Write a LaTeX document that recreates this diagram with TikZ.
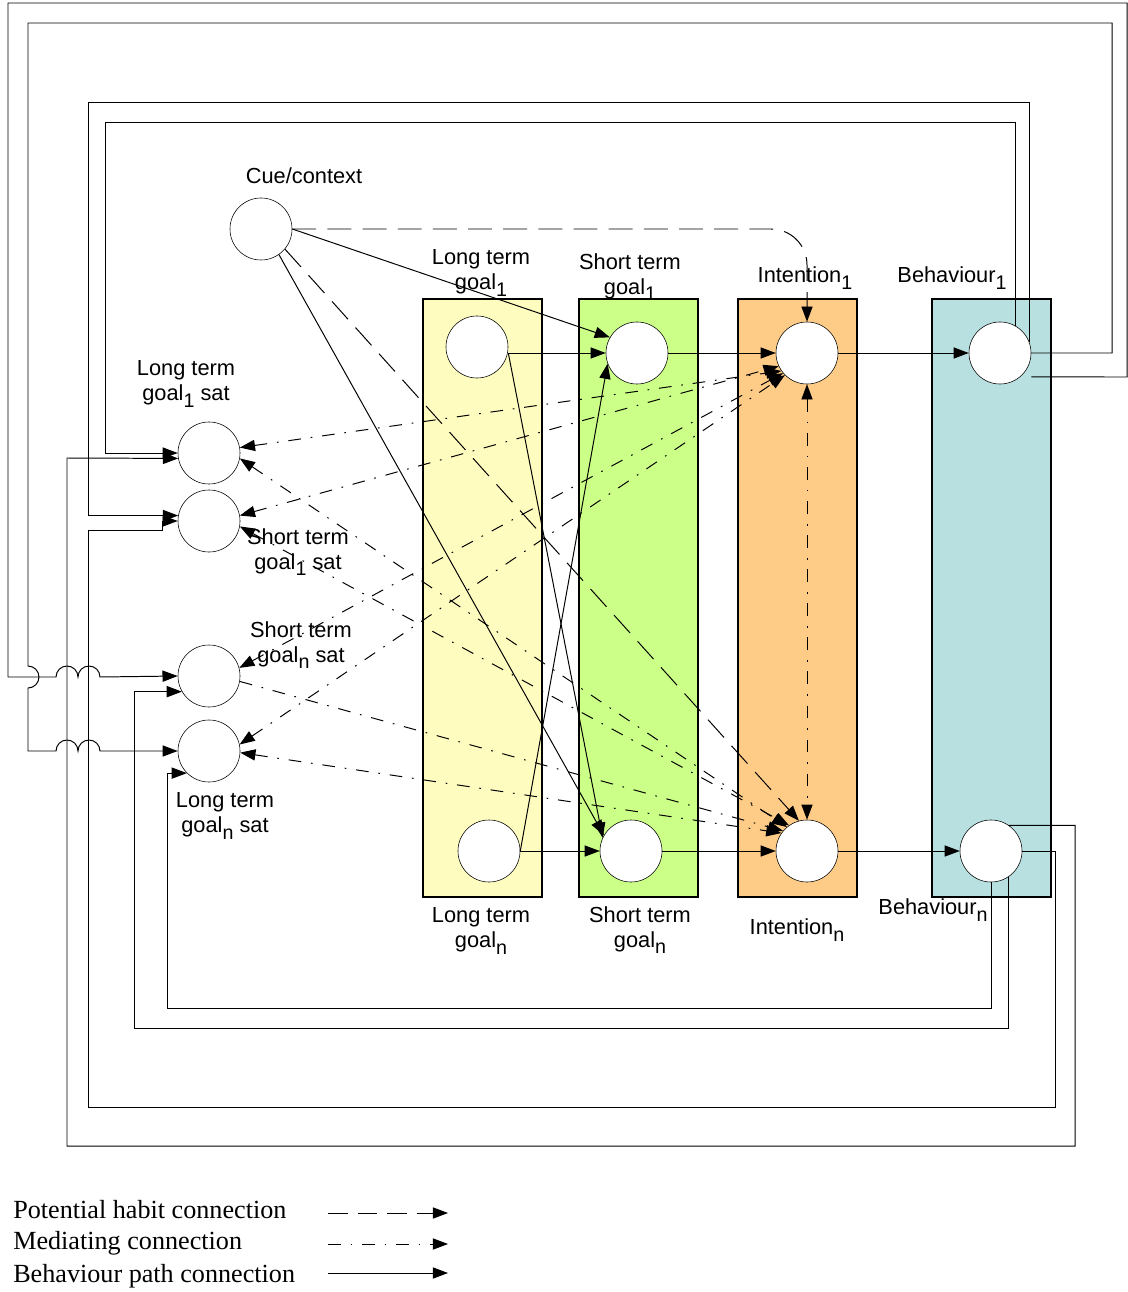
\documentclass[tikz,border=0pt]{standalone}
\usepackage{fontspec}
\setmainfont{Liberation Sans}
\newfontfamily\legendfont{Liberation Serif}
\usetikzlibrary{arrows.meta}
\definecolor{ltgfill}{RGB}{255,252,192}
\definecolor{stgfill}{RGB}{204,255,136}
\definecolor{intfill}{RGB}{255,204,136}
\definecolor{behfill}{RGB}{184,224,224}
\newcommand\lowidx[1]{\raisebox{-0.55ex}{\fontsize{14}{14}\selectfont #1}}
\begin{document}
\begin{tikzpicture}[x=0.025cm, y=-0.025cm, font=\fontsize{15.5}{18}\selectfont,
  >={Triangle[length=0.38cm, width=0.28cm]},
  cell/.style={circle, draw, fill=white, minimum size=1.55cm, inner sep=0pt},
  stage/.style={draw, line width=1.5pt, minimum width=2.975cm, minimum height=14.95cm, inner sep=0pt},
  lbl/.style={align=center, inner sep=0pt},
  route/.style={->, line width=0.7pt},
  habit/.style={->, line width=0.7pt, dash pattern=on 17pt off 8pt},
  mediating/.style={line width=0.7pt, dash pattern=on 9pt off 7pt on 1.2pt off 7pt},
  keytext/.style={anchor=west, inner sep=0pt, font=\legendfont\fontsize{18.6}{22}\selectfont}]
\useasboundingbox (0,0) rectangle (1128,1292);
\node[stage, fill=ltgfill] (ltgcol) at (482.5,598) {};
\node[stage, fill=stgfill] (stgcol) at (638.5,598) {};
\node[stage, fill=intfill] (intcol) at (797.5,598) {};
\node[stage, fill=behfill] (behcol) at (991.5,598) {};
\node[cell] (cue) at (261,229) {};
\node[cell] (ltgA) at (477,347) {};
\node[cell] (ltgN) at (489,851) {};
\node[cell] (stgA) at (637,353) {};
\node[cell] (stgN) at (631,851) {};
\node[cell] (intA) at (807,353) {};
\node[cell] (intN) at (807,851) {};
\node[cell] (behA) at (1000,353) {};
\node[cell] (behN) at (991,851) {};
\node[cell] (ltgAsat) at (209,453) {};
\node[cell] (stgAsat) at (209,521) {};
\node[cell] (stgNsat) at (209,676) {};
\node[cell] (ltgNsat) at (209,751) {};
\node[lbl] (cuelbl) at (304,176) {Cue/context};
\node[lbl] (ltgAlbl) at (481,273) {Long term\\goal\lowidx{1}};
\node[lbl] (stgAlbl) at (630,277) {Short term\\goal\lowidx{1}};
\node[lbl] (intAlbl) at (805,278) {Intention\lowidx{1}};
\node[lbl] (behAlbl) at (952,278) {Behaviour\lowidx{1}};
\node[lbl] (ltgNlbl) at (481,931) {Long term\\goal\lowidx{n}};
\node[lbl] (stgNlbl) at (640,930) {Short term\\goal\lowidx{n}};
\node[lbl] (intNlbl) at (797,930) {Intention\lowidx{n}};
\node[lbl] (behNlbl) at (933,910) {Behaviour\lowidx{n}};
\node[lbl] (ltgAsatlbl) at (186,384) {Long term\\goal\lowidx{1} sat};
\node[lbl] (stgAsatlbl) at (298,552) {Short term\\goal\lowidx{1} sat};
\node[lbl] (stgNsatlbl) at (301,645) {Short term\\goal\lowidx{n} sat};
\node[lbl] (ltgNsatlbl) at (225,816) {Long term\\goal\lowidx{n} sat};
\draw[route] (ltgA.east |- stgA.west) -- (stgA.west);
\draw[route] (ltgA.east |- stgA.west) -- (stgN.155);
\draw[route] (ltgN.east) -- (stgA.200);
\draw[route] (ltgN.east) -- (stgN.west);
\draw[route] (stgA.east) -- (intA.west);
\draw[route] (stgN.east) -- (intN.west);
\draw[route] (intA.east) -- (behA.west);
\draw[route] (intN.east) -- (behN.west);
\draw[route] (cue.east) -- (stgA.150);
\draw[route] (cue.-55) -- (stgN.150);
\draw[habit, rounded corners=0.9cm] (cue.east) -| (intA.north);
\draw[habit] (cue.-40) -- (intN.105);
\draw[mediating, <->] (intA.south) -- (intN.north);
\draw[mediating, <->] (ltgAsat.10) -- (intA.215);
\draw[mediating, <->] (ltgAsat.-10) -- (intN.130);
\draw[mediating, <->] (stgAsat.10) -- (intA.205);
\draw[mediating, <->] (stgAsat.-10) -- (intN.125);
\draw[mediating, <->] (stgNsat.15) -- (intA.220);
\draw[mediating, ->] (stgNsat.-10) -- (intN.140);
\draw[mediating, <->] (ltgNsat.12) -- (intA.225);
\draw[mediating, <->] (ltgNsat.-3) -- (intN.145);
\draw[route] (behA.-50 -| behA.east) -- (1127,377) -- (1127,3) -- (8,3) -- (8,677) -- (56,677)
  arc[start angle=180, end angle=360, radius=11] arc[start angle=180, end angle=360, radius=11] -- (stgNsat.west);
\draw[route] (behA.east) -- (1112,353) -- (1112,23) -- (28,23) -- (28,666)
  arc[start angle=-90, end angle=90, radius=11] -- (28,751) -- (56,751)
  arc[start angle=180, end angle=360, radius=11] arc[start angle=180, end angle=360, radius=11] -- (ltgNsat.west);
\draw[route] (behA.61) |- (105,122) |- (ltgAsat.west);
\draw[route] (behA.20) |- (88,102) |- (stgAsat.170);
\draw[route] (behN.55) -| (1075,1146) -| (67,458) -- (ltgAsat.-170);
\draw[route] (behN.east) -- (1055,851) |- (88,1107) |- (162,530) |- (stgAsat.west);
\draw[route] (behN.-55) |- (134,1028) |- (stgNsat.-150);
\draw[route] (behN.south) |- (167,1008) |- (ltgNsat.-135);
\node[keytext] (keyhabit) at (13,1210) {Potential habit connection};
\node[keytext] (keymed) at (13,1243) {Mediating connection};
\node[keytext] (keypath) at (13,1276) {Behaviour path connection};
\coordinate (habitA) at (328,1213);
\coordinate (habitB) at (448,1213);
\coordinate (medA) at (328,1244);
\coordinate (medB) at (448,1244);
\coordinate (pathA) at (328,1273);
\coordinate (pathB) at (448,1273);
\draw[habit, dash pattern=on 14pt off 7pt] (habitA) -- (habitB);
\draw[mediating, ->] (medA) -- (medB);
\draw[route] (pathA) -- (pathB);
\end{tikzpicture}
\end{document}
